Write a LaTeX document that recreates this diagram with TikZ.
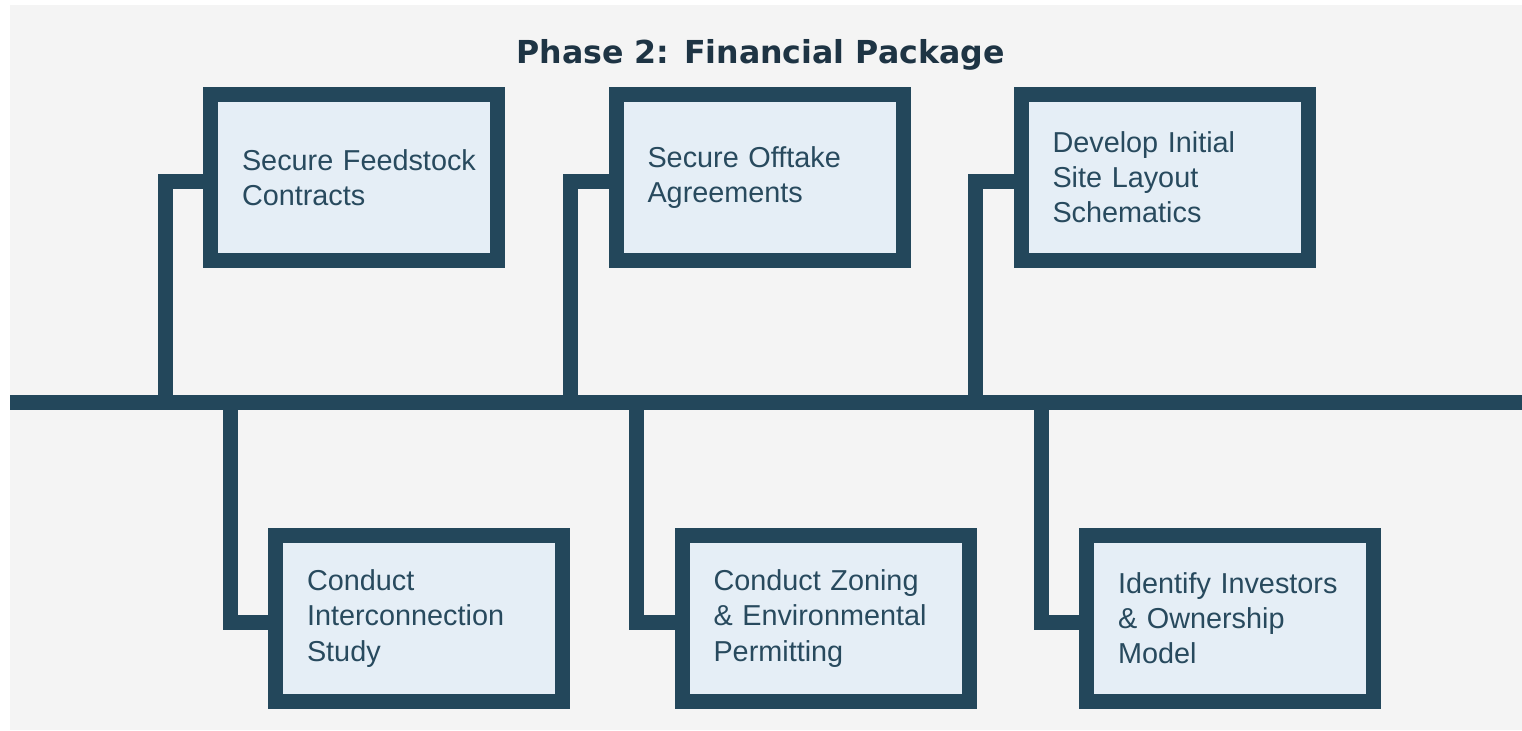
\documentclass[tikz,border=0pt]{standalone}
\usepackage{fontspec}
\setmainfont{Liberation Sans}
\newfontfamily\headfont{DejaVu Sans}

\definecolor{paper}{HTML}{F4F4F4}
\definecolor{slate}{HTML}{23475B}
\definecolor{boxfill}{HTML}{E5EEF6}
\definecolor{ink}{HTML}{284A5E}
\definecolor{titleink}{HTML}{1E3444}

\begin{document}
\begin{tikzpicture}[x=1cm,y=-1cm,
    task/.style={draw=slate, fill=boxfill, line width=0.15cm,
        minimum width=2.87cm, minimum height=1.66cm,
        text width=2.62cm, inner xsep=0.125cm, align=left,
        execute at begin node={\leftskip=0.19cm},
        text=ink, font=\fontsize{8.2}{10}\selectfont},
    link/.style={draw=slate, line width=0.15cm}]

                \useasboundingbox (0,0) rectangle (15.22,7.30);
                \fill [paper] (0.10,0.05) rectangle (15.22,7.30);

                \node (title) [anchor=base, text=titleink, font=\headfont\bfseries\fontsize{9}{11}\selectfont] at (7.605,0.63) {Phase 2: Financial Package};

                % the time line
                \coordinate (spineL) at (0.10,4.02);
                \coordinate (spineR) at (15.22,4.02);
                \draw [link] (spineL) -- (spineR);

                % tasks above the line
                \node (feed) [task] at (3.54,1.775) {Secure Feedstock\\Contracts};
                \node (offtake) [task] at (7.595,1.775) {Secure Offtake\\Agreements};
                \node (layout) [task] at (11.645,1.775) {Develop Initial\\Site Layout\\Schematics};

                % tasks below the line
                \node (interconn) [task] at (4.19,6.185) {Conduct\\Interconnection\\Study};
                \node (zoning) [task] at (8.255,6.185) {Conduct Zoning\\\& Environmental\\Permitting};
                \node (investors) [task] at (12.30,6.185) {Identify Investors\\\& Ownership\\Model};

                % drop points on the line
                \foreach \t in {feed,offtake,layout,interconn,zoning,investors}
                    \coordinate (\t-j) at ([xshift=-0.38cm]\t.west |- spineL);

                \foreach \t in {feed,offtake,layout,interconn,zoning,investors}
                    \draw [link] (\t-j) |- ([yshift=-0.04cm]\t.west);
            \end{tikzpicture}
\end{document}
